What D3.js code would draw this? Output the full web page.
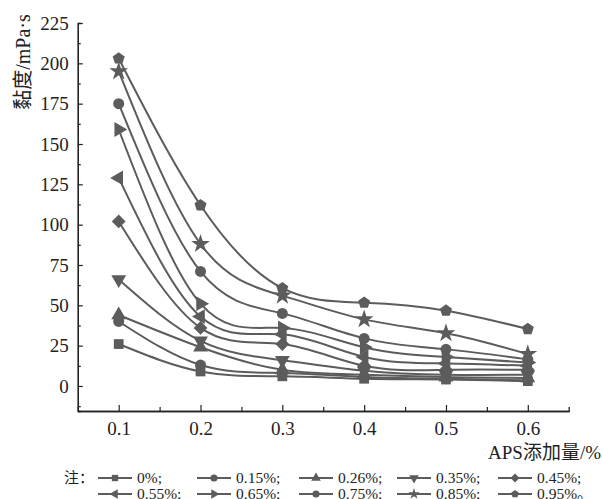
<!DOCTYPE html>
<html>
<head>
<meta charset="utf-8">
<script src="https://cdn.jsdelivr.net/npm/d3@7"></script>
<style>
  body { margin: 0; background: #fff; }
  svg text { font-family: "Liberation Serif", "Noto Sans CJK SC", serif; fill: #222; }
</style>
</head>
<body>
<script>
var width = 603;
var height = 499;

// APS addition (%)
var apsLevels = [0.1, 0.2, 0.3, 0.4, 0.5, 0.6];
var seriesNames = ["0%", "0.15%", "0.26%", "0.35%", "0.45%", "0.55%", "0.65%", "0.75%", "0.85%", "0.95%"];
var s0 = [26, 9, 6, 4.5, 4, 3];
var s015 = [40, 13, 8, 5.5, 4.5, 3.5];
var s026 = [44, 24, 10, 7, 5.5, 5];
var s035 = [66, 28, 16, 9.5, 7, 7];
var s045 = [102, 36, 26, 12.5, 10, 10];
var s055 = [129, 43, 32, 18, 14, 12.5];
var s065 = [159, 51, 36, 24, 18, 14.5];
var s075 = [175, 71, 45, 29.5, 22.7, 16.5];
var s085 = [195, 88, 56, 41.3, 32.7, 19.8];
var s095 = [203, 112, 60.6, 51.6, 46.7, 35.3];
var seriesValues = [s0, s015, s026, s035, s045, s055, s065, s075, s085, s095];
var yTicks = [0, 25, 50, 75, 100, 125, 150, 175, 200, 225];
var xTicks = [0.1, 0.2, 0.3, 0.4, 0.5, 0.6];

var color = "#5c5c5c";

var svg = d3.select("body")
    .append("svg")
    .attr("width", width)
    .attr("height", height);

var x = d3.scaleLinear().domain([0.05, 0.65]).range([77.8, 568.7]);
var y = d3.scaleLinear().domain([-15.5, 225]).range([411, 23]);

// pentagon symbol, d3 has none
var symbolPentagon = {
    draw: function (context, size) {
        var r = Math.sqrt(size / 2.378);
        for (var i = 0; i < 5; i += 1) {
            var a = -Math.PI / 2 + i * 2 * Math.PI / 5;
            if (i === 0) context.moveTo(r * Math.cos(a), r * Math.sin(a));
            else context.lineTo(r * Math.cos(a), r * Math.sin(a));
        }
        context.closePath();
    }
};
// [symbol type, rotation]
var markers = [
    [d3.symbolSquare, 0],
    [d3.symbolCircle, 0],
    [d3.symbolTriangle, 0],
    [d3.symbolTriangle, 180],
    [d3.symbolSquare, 45],
    [d3.symbolTriangle, -90],
    [d3.symbolTriangle, 90],
    [d3.symbolCircle, 0],
    [d3.symbolStar, 0],
    [symbolPentagon, 0]
];

// axes
var yAxis = d3.axisLeft(y).tickValues(yTicks).tickSizeInner(-5).tickSizeOuter(0).tickPadding(9);
var yMinor = d3.axisLeft(y).tickValues(d3.range(-12.5, 225, 25)).tickSize(-3).tickFormat("");
var xAxis = d3.axisBottom(x).tickValues(xTicks).tickSizeInner(-6).tickSizeOuter(0).tickPadding(11)
    .tickFormat(d3.format(".1f"));
var xMinor = d3.axisBottom(x).tickValues([0.15, 0.25, 0.35, 0.45, 0.55]).tickSize(-4).tickFormat("");

var gy = svg.append("g").attr("transform", "translate(" + x(0.05) + ",0)").call(yAxis);
svg.append("g").attr("transform", "translate(" + x(0.05) + ",0)").call(yMinor);
var gx = svg.append("g").attr("transform", "translate(0," + y(-15.5) + ")").call(xAxis);
svg.append("g").attr("transform", "translate(0," + y(-15.5) + ")").call(xMinor);
svg.selectAll(".domain").attr("stroke", "#222").attr("stroke-width", 1.3);
svg.selectAll(".tick line").attr("stroke", "#222").attr("stroke-width", 1.2);
gy.selectAll("text").style("font-size", "19px").attr("fill", "#222");
gx.selectAll("text").style("font-size", "19px").attr("fill", "#222");

// axis titles
svg.append("text")
    .attr("transform", "translate(30,62) rotate(-90)")
    .attr("text-anchor", "middle")
    .style("font-size", "20px")
    .text("黏度/mPa·s");
svg.append("text")
    .attr("x", 601)
    .attr("y", 459)
    .attr("text-anchor", "end")
    .style("font-size", "19px")
    .text("APS添加量/%");

// curves
var line = d3.line()
    .x(function (d, i) { return x(apsLevels[i]); })
    .y(function (d) { return y(d); })
    .curve(d3.curveNatural);

var plot = svg.append("g");
seriesValues.forEach(function (vals, si) {
    plot.append("path")
        .attr("d", line(vals))
        .attr("fill", "none")
        .attr("stroke", color)
        .attr("stroke-width", 2);
});
seriesValues.forEach(function (vals, si) {
    var sym = d3.symbol().type(markers[si][0]).size(si === 8 ? 110 : 95);
    plot.selectAll(null)
        .data(vals)
        .enter().append("path")
        .attr("d", sym)
        .attr("fill", color)
        .attr("transform", function (d, i) {
            return "translate(" + x(apsLevels[i]) + "," + y(d) + ") rotate(" + markers[si][1] + ")";
        });
});

// legend
var legend = svg.append("g");
legend.append("text")
    .attr("x", 64)
    .attr("y", 483)
    .style("font-size", "15px")
    .text("注：");
var colX = [98, 197, 299, 397, 498];
var rowY = [478, 494];
seriesNames.forEach(function (name, si) {
    var lx = colX[si % 5];
    var ly = rowY[Math.floor(si / 5)];
    legend.append("line")
        .attr("x1", lx).attr("x2", lx + 34)
        .attr("y1", ly).attr("y2", ly)
        .attr("stroke", color)
        .attr("stroke-width", 2);
    legend.append("path")
        .attr("d", d3.symbol().type(markers[si][0]).size(40))
        .attr("fill", color)
        .attr("transform", "translate(" + (lx + 17) + "," + ly + ") rotate(" + markers[si][1] + ")");
    legend.append("text")
        .attr("x", lx + 39)
        .attr("y", ly + 5)
        .style("font-size", "15.5px")
        .text(name + (si === 9 ? "。" : ";"));
});
</script>
</body>
</html>
